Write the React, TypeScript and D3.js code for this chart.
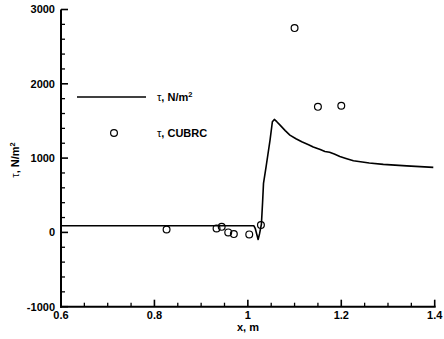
import React from "react";
import * as d3 from "d3";

const W = 444;
const H = 339;

// Computed line: tau, N/m^2
const lineX = [0.6, 0.8, 1.0, 1.013, 1.016, 1.022, 1.025, 1.029, 1.0315, 1.0335, 1.039, 1.0475, 1.0525, 1.0567, 1.062, 1.069, 1.08, 1.09, 1.103, 1.1154, 1.13, 1.14, 1.155, 1.165, 1.175, 1.185, 1.197, 1.21, 1.226, 1.26, 1.29, 1.34, 1.397];
const lineY = [89, 89, 89, 89, 50, -95, -20, 110, 400, 660, 883, 1242, 1489, 1521, 1490, 1444, 1370, 1310, 1260, 1219, 1180, 1150, 1115, 1090, 1078, 1055, 1022, 995, 964, 935, 915, 895, 875];

// CUBRC experiment points
const expX = [0.826, 0.933, 0.944, 0.958, 0.970, 1.003, 1.028, 1.1, 1.15, 1.2];
const expY = [40, 54, 75, 0, -23, -27, 98, 2750, 1690, 1704];

const xTicks = [0.6, 0.8, 1.0, 1.2, 1.4];
const xTickLabels = ["0.6", "0.8", "1", "1.2", "1.4"];
const yTicks = [-1000, 0, 1000, 2000, 3000];
const yTickLabels = ["-1000", "0", "1000", "2000", "3000"];

const FONT = "'Liberation Sans', Arial, Helvetica, sans-serif";
const FS = 11;

export default function App() {
  const left = 61, right = 434.7, top = 9.5, bottom = 306.7;
  const x = d3.scaleLinear().domain([0.6, 1.4]).range([left, right]);
  const y = d3.scaleLinear().domain([-1000, 3000]).range([bottom, top]);

  const line = d3
    .line<number>()
    .x((_, i) => x(lineX[i]))
    .y((d) => y(d));

  const xMinor = d3.range(0.6, 1.4001, 0.05).filter((v) => !xTicks.some((t) => Math.abs(t - v) < 1e-6));
  const yMinor = d3.range(-1000, 3001, 200).filter((v) => !yTicks.includes(v));

  return (
    <>
      <style>{`body{margin:0}`}</style>
      <svg width={W} height={H} style={{ display: "block", background: "#fff" }} fontFamily={FONT}>
        {/* axes */}
        <line x1={left} x2={left} y1={top} y2={bottom + 1} stroke="#000" strokeWidth={2} />
        <line x1={left - 1} x2={right + 1} y1={bottom} y2={bottom} stroke="#000" strokeWidth={2} />
        {xTicks.map((t) => (
          <line key={"xt" + t} x1={x(t)} x2={x(t)} y1={bottom} y2={bottom - 7} stroke="#000" strokeWidth={1.6} />
        ))}
        {xMinor.map((t) => (
          <line key={"xm" + t} x1={x(t)} x2={x(t)} y1={bottom} y2={bottom - 4} stroke="#000" strokeWidth={1.3} />
        ))}
        {yTicks.map((t) => (
          <line key={"yt" + t} x1={left} x2={left + 7} y1={y(t)} y2={y(t)} stroke="#000" strokeWidth={1.6} />
        ))}
        {yMinor.map((t) => (
          <line key={"ym" + t} x1={left} x2={left + 4} y1={y(t)} y2={y(t)} stroke="#000" strokeWidth={1.3} />
        ))}
        {xTicks.map((t, i) => (
          <text key={"xl" + t} x={x(t)} y={318.5} textAnchor="middle" fontSize={FS} fontWeight="bold">
            {xTickLabels[i]}
          </text>
        ))}
        {yTicks.map((t, i) => (
          <text key={"yl" + t} x={55} y={y(t)} dy="0.35em" textAnchor="end" fontSize={FS} fontWeight="bold">
            {yTickLabels[i]}
          </text>
        ))}
        {/* axis titles */}
        <text x={248} y={330.5} textAnchor="middle" fontSize={FS} fontWeight="bold">
          x, m
        </text>
        <text transform="translate(19,160) rotate(-90)" textAnchor="middle" fontSize={FS} fontWeight="bold">
          <tspan fontWeight="normal">τ</tspan>, N/m<tspan fontSize={7.5} dy={-4}>2</tspan>
        </text>

        {/* data */}
        <path d={line(lineY) || ""} fill="none" stroke="#000" strokeWidth={1.6} strokeLinejoin="round" />
        {expX.map((v, i) => (
          <circle key={"c" + i} cx={x(v)} cy={y(expY[i])} r={3.4} fill="none" stroke="#000" strokeWidth={1.2} />
        ))}

        {/* legend */}
        <line x1={77} x2={146} y1={97} y2={97} stroke="#000" strokeWidth={1.6} />
        <text x={157} y={101} fontSize={FS} fontWeight="bold">
          <tspan fontWeight="normal">τ</tspan>, N/m<tspan fontSize={7.5} dy={-4}>2</tspan>
        </text>
        <circle cx={114} cy={133} r={3.4} fill="none" stroke="#000" strokeWidth={1.2} />
        <text x={157} y={137} fontSize={FS} fontWeight="bold">
          <tspan fontWeight="normal">τ</tspan>, CUBRC
        </text>
      </svg>
    </>
  );
}
